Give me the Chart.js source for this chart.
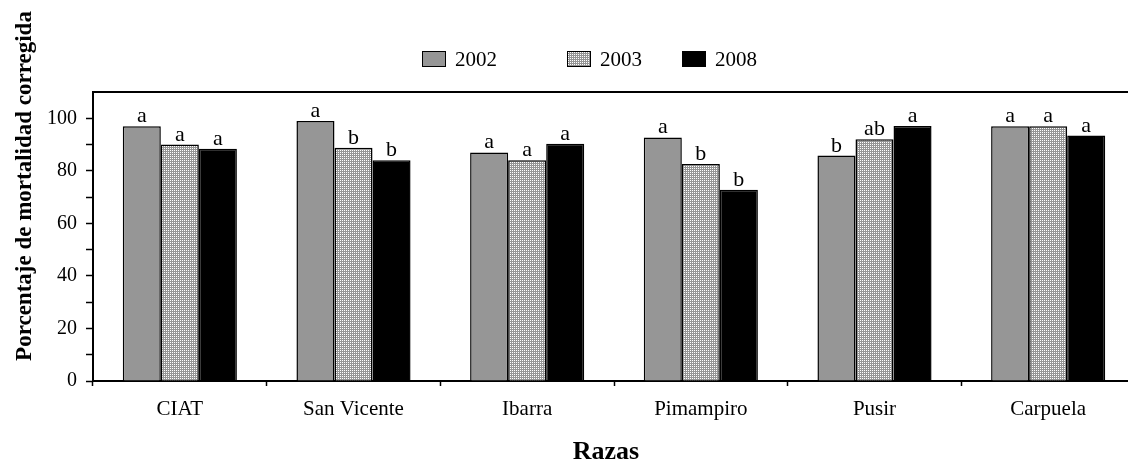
<!DOCTYPE html>
<html>
<head>
<meta charset="utf-8">
<script src="https://cdn.jsdelivr.net/npm/chart.js@4.4.0/dist/chart.umd.min.js"></script>
<style>
  html, body { margin: 0; padding: 0; background: #fff; overflow: hidden; }
  #wrap { width: 1128px; height: 466px; overflow: hidden; }
</style>
</head>
<body>
<div id="wrap"><canvas id="mortalidad" width="1140" height="466"></canvas></div>
<script>
// categories and series
const RAZAS = ["CIAT", "San Vicente", "Ibarra", "Pimampiro", "Pusir", "Carpuela"];
const YEARS = ["2002", "2003", "2008"];
const DATA_2002 = [97, 99, 87, 92.7, 85.8, 97];
const DATA_2003 = [90, 88.8, 84, 82.6, 92, 97];
const DATA_2008 = [88.4, 84, 90.3, 72.8, 97.1, 93.4];
// letters of mean separation
const LETRAS_2002 = ["a", "a", "a", "a", "b", "a"];
const LETRAS_2003 = ["a", "b", "a", "b", "ab", "a"];
const LETRAS_2008 = ["a", "b", "a", "b", "a", "a"];
const Y_TICKS = [0, 20, 40, 60, 80, 100];

const SERIF = "'Liberation Serif', 'Times New Roman', serif";
const GRIS = "#969696";

// fine dotted fill for 2003
function dotPattern() {
    const c = document.createElement("canvas");
    c.width = 2; c.height = 2;
    const g = c.getContext("2d");
    g.fillStyle = "#959595";
    g.fillRect(0, 0, 2, 2);
    g.fillStyle = "#ffffff";
    g.fillRect(0, 0, 1, 1);
    return g.createPattern(c, "repeat");
}
const PUNTOS = dotPattern();

const FILLS = [GRIS, PUNTOS, "#000000"];
const LETRAS = [LETRAS_2002, LETRAS_2003, LETRAS_2008];

// legend placement (box left edges)
const LEGEND_X = [422, 567, 682];

const decorPlugin = {
    id: "decor",
    afterDraw(chart) {
        const ctx = chart.ctx;
        const area = chart.chartArea;
        ctx.save();
        // top frame line
        ctx.strokeStyle = "#000";
        ctx.lineWidth = 2;
        ctx.beginPath();
        ctx.moveTo(area.left - 1, area.top);
        ctx.lineTo(chart.width, area.top);
        ctx.stroke();

        // letters above each bar
        ctx.fillStyle = "#000";
        ctx.font = "22px " + SERIF;
        ctx.textAlign = "center";
        ctx.textBaseline = "alphabetic";
        chart.data.datasets.forEach(function (ds, i) {
            chart.getDatasetMeta(i).data.forEach(function (bar, j) {
                ctx.fillText(LETRAS[i][j], bar.x, bar.y - 4);
            });
        });

        // legend
        ctx.font = "21px " + SERIF;
        ctx.textAlign = "left";
        ctx.textBaseline = "middle";
        YEARS.forEach(function (yr, i) {
            const x = LEGEND_X[i];
            ctx.fillStyle = FILLS[i];
            ctx.fillRect(x, 51, 23, 15);
            ctx.lineWidth = 1;
            ctx.strokeStyle = "#000";
            ctx.strokeRect(x + 0.5, 51.5, 23, 15);
            ctx.fillStyle = "#000";
            ctx.fillText(yr, x + 33, 60);
        });

        // axis titles
        ctx.font = "bold 23px " + SERIF;
        ctx.textAlign = "center";
        ctx.textBaseline = "middle";
        ctx.save();
        ctx.translate(25, 186);
        ctx.rotate(-Math.PI / 2);
        ctx.fillText("Porcentaje de mortalidad corregida", 0, 0);
        ctx.restore();
        ctx.font = "bold 26px " + SERIF;
        ctx.fillText("Razas", 606, 452);
        ctx.restore();
    }
};

const ctxChart = document.getElementById("mortalidad").getContext("2d");
new Chart(ctxChart, {
    type: "bar",
    data: {
        labels: RAZAS,
        datasets: [
            { label: YEARS[0], data: DATA_2002, backgroundColor: FILLS[0] },
            { label: YEARS[1], data: DATA_2003, backgroundColor: FILLS[1] },
            { label: YEARS[2], data: DATA_2008, backgroundColor: FILLS[2] }
        ]
    },
    options: {
        responsive: false,
        animation: false,
        devicePixelRatio: 1,
        layout: { padding: { top: 92, left: 0, right: 5, bottom: 0 } },
        datasets: {
            bar: {
                borderColor: "#000",
                borderWidth: 1.5,
                categoryPercentage: 0.657,
                barPercentage: 1.0
            }
        },
        plugins: {
            legend: { display: false },
            tooltip: { enabled: false }
        },
        scales: {
            x: {
                offset: true,
                grid: {
                    offset: true,
                    drawOnChartArea: false,
                    drawTicks: true,
                    tickLength: 5,
                    color: "#000",
                    tickWidth: 1.5
                },
                border: { color: "#000", width: 2 },
                ticks: {
                    color: "#000",
                    padding: 11,
                    maxRotation: 0,
                    font: { family: SERIF, size: 21 }
                },
                afterFit: function (scale) { scale.height = 85; }
            },
            y: {
                min: 0,
                max: 110,
                grid: {
                    drawOnChartArea: false,
                    drawTicks: true,
                    tickLength: 7,
                    color: "#000",
                    tickWidth: 1.5
                },
                border: { color: "#000", width: 2 },
                ticks: {
                    stepSize: 10,
                    color: "#000",
                    padding: 9,
                    font: { family: SERIF, size: 20 },
                    callback: function (v) { return Y_TICKS.includes(v) ? v : ""; }
                },
                afterBuildTicks: function (scale) {
                    scale.ticks = scale.ticks.filter(function (t) { return t.value <= 100; });
                },
                afterFit: function (scale) { scale.width = 93; }
            }
        }
    },
    plugins: [decorPlugin]
});
</script>
</body>
</html>
